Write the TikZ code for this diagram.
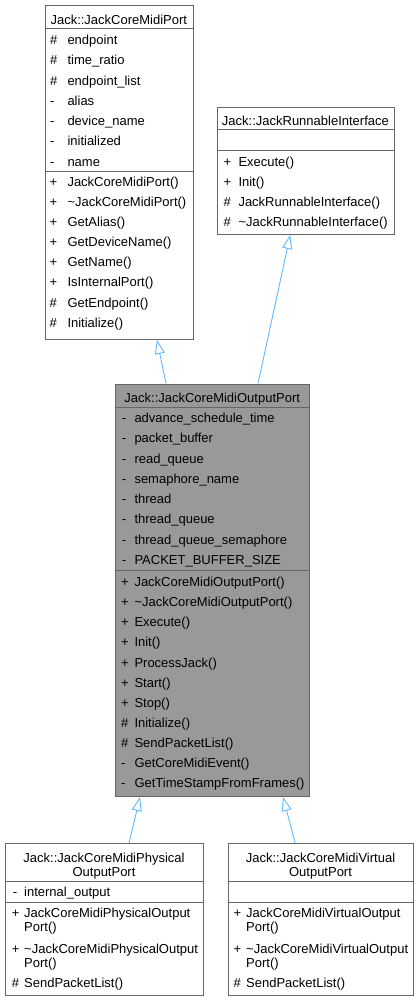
\documentclass[tikz,border=0pt]{standalone}
\usepackage{fontspec}
\setmainfont{Liberation Sans}
\usetikzlibrary{arrows.meta,calc}
\definecolor{boxgray}{HTML}{666666}
\definecolor{mainfill}{HTML}{999999}
\definecolor{edgeblue}{HTML}{63B8FF}
\tikzset{
  umlbox/.style={draw=boxgray, line width=1pt, fill=white, inner sep=0pt, anchor=north west},
  mainbox/.style={umlbox, fill=mainfill},
  sepline/.style={draw=boxgray, line width=1pt},
  txt/.style={inner sep=0pt, font=\fontsize{13pt}{14pt}\selectfont},
  mem/.style={txt, anchor=base west},
  ttl/.style={txt, anchor=base},
  inh/.style={draw=edgeblue, line width=0.9pt, -{Triangle[open, length=14pt, width=10pt]}}
}
\begin{document}
\begin{tikzpicture}[x=1pt, y=-1pt]
\useasboundingbox (0,0) rectangle (419,1001);

% ---------- Box 1: JackCoreMidiPort ----------
\node[umlbox, minimum width=148.5pt, minimum height=334pt] (p1) at (44.5,5) {};
\draw[sepline] ($(p1.north west)+(0,23)$) -- ($(p1.north east)+(0,23)$);
\draw[sepline] ($(p1.north west)+(0,166.7)$) -- ($(p1.north east)+(0,166.7)$);
\node[ttl] (p1t) at (118.8,24) {Jack::JackCoreMidiPort};
\foreach \m/\t [count=\i] in {\#/endpoint, \#/time\_ratio, \#/endpoint\_list, -/alias, -/device\_name, -/initialized, -/name}{
  \node[mem] (p1am\i) at (50,{40+20.28*(\i-1)+4.5}) {\m};
  \node[mem] (p1an\i) at (67.3,{40+20.28*(\i-1)+4.5}) {\t};
}
\foreach \m/\t [count=\i] in {+/JackCoreMidiPort(), +/\textasciitilde{}JackCoreMidiPort(), +/GetAlias(), +/GetDeviceName(), +/GetName(), +/IsInternalPort(), \#/GetEndpoint(), \#/Initialize()}{
  \node[mem] (p1mm\i) at (49.5,{181.7+20.14*(\i-1)+4.5}) {\m};
  \node[mem] (p1mn\i) at (67.3,{181.7+20.14*(\i-1)+4.5}) {\t};
}

% ---------- Box 2: JackRunnableInterface ----------
\node[umlbox, minimum width=177.3pt, minimum height=127.3pt] (p2) at (216.7,106.7) {};
\draw[sepline] ($(p2.north west)+(0,22.6)$) -- ($(p2.north east)+(0,22.6)$);
\draw[sepline] ($(p2.north west)+(0,44)$) -- ($(p2.north east)+(0,44)$);
\node[ttl] (p2t) at (305.4,125.2) {Jack::JackRunnableInterface};
\foreach \m/\t [count=\i] in {+/Execute(), +/Init(), \#/JackRunnableInterface(), \#/\textasciitilde{}JackRunnableInterface()}{
  \node[mem] (p2mm\i) at (223.3,{161.7+20.2*(\i-1)+4.5}) {\m};
  \node[mem] (p2mn\i) at (238.3,{161.7+20.2*(\i-1)+4.5}) {\t};
}

% ---------- Main box: JackCoreMidiOutputPort ----------
\node[mainbox, minimum width=194.3pt, minimum height=412.5pt] (mn) at (115,383.5) {};
\draw[sepline] ($(mn.north west)+(0,23.8)$) -- ($(mn.north east)+(0,23.8)$);
\draw[sepline] ($(mn.north west)+(0,186.5)$) -- ($(mn.north east)+(0,186.5)$);
\node[ttl] (mnt) at (212.2,402.2) {Jack::JackCoreMidiOutputPort};
\foreach \t [count=\i] in {advance\_schedule\_time, packet\_buffer, read\_queue, semaphore\_name, thread, thread\_queue, thread\_queue\_semaphore, PACKET\_BUFFER\_SIZE}{
  \node[mem] (mnam\i) at (122,{418+20.29*(\i-1)+4.5}) {-};
  \node[mem] (mnan\i) at (134.3,{418+20.29*(\i-1)+4.5}) {\t};
}
\foreach \m/\t [count=\i] in {+/JackCoreMidiOutputPort(), +/\textasciitilde{}JackCoreMidiOutputPort(), +/Execute(), +/Init(), +/ProcessJack(), +/Start(), +/Stop(), \#/Initialize(), \#/SendPacketList(), -/GetCoreMidiEvent(), -/GetTimeStampFromFrames()}{
  \node[mem] (mnmm\i) at (121,{582+20.13*(\i-1)+4.5}) {\m};
  \node[mem] (mnmn\i) at (134.3,{582+20.13*(\i-1)+4.5}) {\t};
}

% ---------- Bottom left: JackCoreMidiPhysicalOutputPort ----------
\node[umlbox, minimum width=198.6pt, minimum height=152pt] (lb) at (4.7,843) {};
\draw[sepline] ($(lb.north west)+(0,38.8)$) -- ($(lb.north east)+(0,38.8)$);
\draw[sepline] ($(lb.north west)+(0,59.3)$) -- ($(lb.north east)+(0,59.3)$);
\node[ttl] (lbt1) at (104,862.2) {Jack::JackCoreMidiPhysical};
\node[ttl] (lbt2) at (104,876.2) {OutputPort};
\node[mem] (lbam1) at (12.7,896.8) {-};
\node[mem] (lban1) at (24,896.8) {internal\_output};
\node[mem] (lbmm1) at (11.7,917.8) {+};
\node[mem] (lbmn1) at (24,917.8) {JackCoreMidiPhysicalOutput};
\node[mem] (lbmn1b) at (24,931.8) {Port()};
\node[mem] (lbmm2) at (11.7,953.5) {+};
\node[mem] (lbmn2) at (24,953.5) {\textasciitilde{}JackCoreMidiPhysicalOutput};
\node[mem] (lbmn2b) at (24,967.8) {Port()};
\node[mem] (lbmm3) at (11.7,987.8) {\#};
\node[mem] (lbmn3) at (24,987.8) {SendPacketList()};

% ---------- Bottom right: JackCoreMidiVirtualOutputPort ----------
\node[umlbox, minimum width=185.6pt, minimum height=152pt] (rb) at (227.7,843) {};
\draw[sepline] ($(rb.north west)+(0,38.8)$) -- ($(rb.north east)+(0,38.8)$);
\draw[sepline] ($(rb.north west)+(0,59.3)$) -- ($(rb.north east)+(0,59.3)$);
\node[ttl] (rbt1) at (320.5,862.2) {Jack::JackCoreMidiVirtual};
\node[ttl] (rbt2) at (320.5,876.2) {OutputPort};
\node[mem] (rbmm1) at (233.3,917.8) {+};
\node[mem] (rbmn1) at (246,917.8) {JackCoreMidiVirtualOutput};
\node[mem] (rbmn1b) at (246,931.8) {Port()};
\node[mem] (rbmm2) at (233.3,953.5) {+};
\node[mem] (rbmn2) at (246,953.5) {\textasciitilde{}JackCoreMidiVirtualOutput};
\node[mem] (rbmn2b) at (246,967.8) {Port()};
\node[mem] (rbmm3) at (233.3,987.8) {\#};
\node[mem] (rbmn3) at (246,987.8) {SendPacketList()};

% ---------- Inheritance edges ----------
\draw[inh] ($(mn.north west)+(51,0)$) -- ($(p1.south west)+(112.5,0)$);
\draw[inh] ($(mn.north west)+(143,0)$) -- ($(p2.south west)+(73.5,0)$);
\draw[inh] ($(lb.north west)+(124.3,0)$) -- ($(mn.south west)+(25,0)$);
\draw[inh] ($(rb.north west)+(67.5,0)$) -- ($(mn.south west)+(168,0)$);
\end{tikzpicture}
\end{document}
